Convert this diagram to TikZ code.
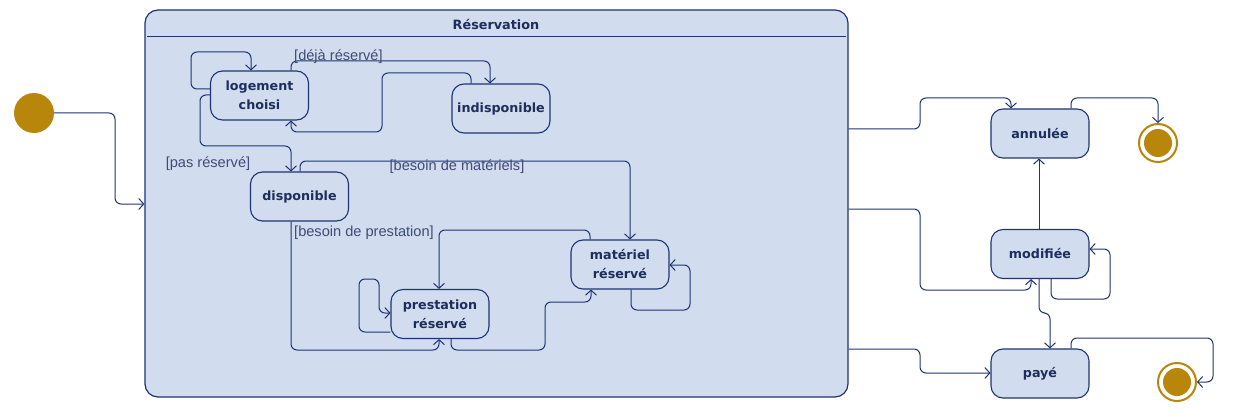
\documentclass[tikz,border=0pt]{standalone}
\usepackage{fontspec}
\setmainfont{DejaVu Sans}
\newfontfamily\labfont{Liberation Sans}
\usetikzlibrary{arrows.meta}
\definecolor{fillb}{HTML}{D1DCEF}
\definecolor{navy}{HTML}{1F3470}
\definecolor{txt}{HTML}{1E2D5C}
\definecolor{gold}{HTML}{B8860B}
\begin{document}
\begin{tikzpicture}[x=1pt,y=-1pt,
  statebox/.style={draw=navy,fill=fillb,line width=1.1pt,rounded corners=12pt,
    minimum width=98pt,minimum height=49pt,inner sep=0pt,align=center,
    text=txt,font=\fontsize{12.7}{19}\selectfont\bfseries},
  tr/.style={draw=navy,line width=1pt,rounded corners=6pt,
    -{Straight Barb[length=5pt,width=11pt,line width=1pt]}},
  guard/.style={text=txt!85!white,font=\labfont\fontsize{14.6}{16}\selectfont,inner sep=0pt},
  finalring/.style={circle,draw=gold,line width=2pt,fill=white,minimum size=38pt,inner sep=0pt},
  finaldot/.style={circle,fill=gold,minimum size=28pt,inner sep=0pt}]
\useasboundingbox (0,0) rectangle (1234,417);
% composite state
\node[draw=navy,fill=fillb,line width=1.2pt,rounded corners=13pt,minimum width=703pt,
  minimum height=387pt,inner sep=0pt] (res) at (496.5,203.5) {};
\node[text=txt,font=\fontsize{12.8}{15}\selectfont\bfseries] (title) at (496,24) {Réservation};
\draw[navy,line width=1pt] ([xshift=3pt]res.west |- 0,37) -- ([xshift=-3pt]res.east |- 0,37);
% initial and final
\node[circle,fill=gold,minimum size=40pt,inner sep=0pt] (init) at (34,113) {};
\node[finalring] (fin1) at (1158,143) {};
\node[finaldot] at (fin1) {};
\node[finalring] (fin2) at (1177,382) {};
\node[finaldot] at (fin2) {};
% states
\node[statebox] (logement) at (259.5,95.5) {logement\\choisi};
\node[statebox] (indisp) at (501,108.5) {indisponible};
\node[statebox] (dispo) at (299.5,196.5) {disponible};
\node[statebox] (materiel) at (620,264.5) {matériel\\réservé};
\node[statebox] (prestation) at (440,314) {prestation\\réservé};
\node[statebox] (annulee) at (1040,133.5) {annulée};
\node[statebox] (modifiee) at (1040,254) {modifiée};
\node[statebox] (paye) at (1040,373.5) {payé};
% outer transitions
\draw[tr] (init.east) -- (115,113) -- (115,204) -- (res.west |- 0,204);
\draw[tr] (res.east |- 0,129) -- (920,129) -- (920,98) -- (1011,98) -- (annulee.north -| 1011,0);
\draw[tr] (res.east |- 0,209) -- (920,209) -- (920,290) -- (1031,290) -- (modifiee.south -| 1031,0);
\draw[tr] (res.east |- 0,349) -- (920,349) -- (920,373) -- (paye.west |- 0,373);
\draw[tr] (annulee.north -| 1071,0) -- (1071,98) -- (1158,98) -- (fin1.north);
\draw[tr] (modifiee.north -| 1039,0) -- (annulee.south -| 1039,0);
\draw[tr] (modifiee.south -| 1051,0) -- (1051,299) -- (1110,299) -- (1110,249) -- (modifiee.east |- 0,249);
\draw[tr] (modifiee.south -| 1039,0) -- (1039,313) -- (1050,313) -- (paye.north -| 1050,0);
\draw[tr] (paye.north -| 1071,0) -- (1071,338) -- (1213,338) -- (1213,382) -- (fin2.east);
% inner transitions
\draw[tr] (logement.west |- 0,89) -- (191,89) -- (191,52) -- (251,52) -- (logement.north -| 251,0);
\draw[tr] (logement.north -| 291,0) -- (291,61) -- (490,61) -- (indisp.north -| 490,0);
\node[guard,anchor=west] (g1) at (294,57) {[déjà réservé]};
\draw[tr] (indisp.north -| 471,0) -- (471,73) -- (382,73) -- (382,132) -- (291,132) -- (logement.south -| 291,0);
\draw[tr] (logement.west |- 0,95) -- (200,95) -- (200,146) -- (291,146) -- (dispo.north -| 291,0);
\node[guard] (g2) at (208,164) {[pas réservé]};
\draw[tr] (dispo.north -| 300,0) -- (300,161) -- (630,161) -- (materiel.north -| 630,0);
\node[guard] (g3) at (457,167) {[besoin de matériels]};
\draw[tr] (dispo.south -| 291,0) -- (291,350) -- (439,350) -- (prestation.south -| 439,0);
\node[guard] (g4) at (364,233) {[besoin de prestation]};
\draw[tr] (materiel.north -| 590,0) -- (590,230) -- (439,230) -- (prestation.north -| 439,0);
\draw[tr] (prestation.south -| 451,0) -- (451,350) -- (545,350) -- (545,302) -- (591,302) -- (materiel.south -| 591,0);
\draw[tr] (prestation.west |- 0,332) -- (359,332) -- (359,279) -- (379,279) -- (379,313) -- (prestation.west |- 0,313);
\draw[tr] (materiel.south -| 631,0) -- (631,310) -- (690,310) -- (690,265) -- (materiel.east |- 0,265);
\end{tikzpicture}
\end{document}
